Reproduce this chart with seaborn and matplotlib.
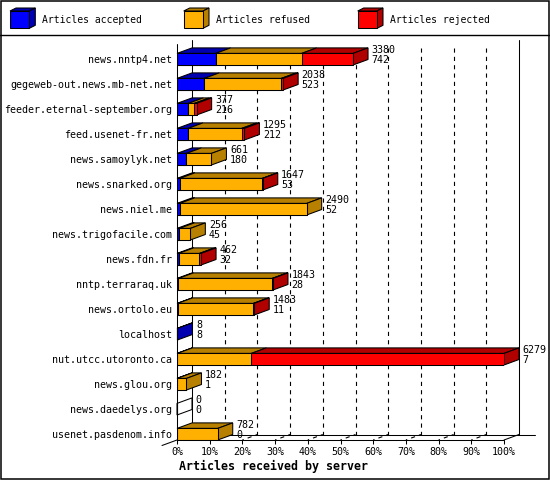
import matplotlib
matplotlib.use("Agg")
import matplotlib.pyplot as plt
import seaborn as sns
import pandas as pd
from matplotlib.patches import Polygon, Rectangle

hosts = ["news.nntp4.net", "gegeweb-out.news.mb-net.net", "feeder.eternal-september.org",
         "feed.usenet-fr.net", "news.samoylyk.net", "news.snarked.org", "news.niel.me",
         "news.trigofacile.com", "news.fdn.fr", "nntp.terraraq.uk", "news.ortolo.eu",
         "localhost", "nut.utcc.utoronto.ca", "news.glou.org", "news.daedelys.org",
         "usenet.pasdenom.info"]
total = [3380, 2038, 377, 1295, 661, 1647, 2490, 256, 462, 1843, 1483, 8, 6279, 182, 0, 782]
accepted = [742, 523, 216, 212, 180, 53, 52, 45, 32, 28, 11, 8, 7, 1, 0, 0]
refused = [1652, 1480, 116, 1030, 481, 1584, 2438, 211, 400, 1800, 1455, 0, 1420, 181, 0, 782]
rejected = [986, 35, 45, 53, 0, 10, 0, 0, 30, 15, 17, 0, 4852, 0, 0, 0]
series_labels = ["Articles accepted", "Articles refused", "Articles rejected"]
tick_values = [0, 10, 20, 30, 40, 50, 60, 70, 80, 90, 100]
x_title = "Articles received by server"

FRONT = ["#0000FF", "#FFB000", "#FF0000"]
DARK = ["#0000B0", "#B88000", "#B00000"]

sns.set_theme(style="white")
plt.rcParams["font.family"] = ["DejaVu Sans Mono"]
plt.rcParams["lines.scale_dashes"] = False

W, HH = 550, 480
fig = plt.figure(figsize=(5.5, 4.8), dpi=100)
fig.patch.set_facecolor("white")
bg = fig.add_axes([0, 0, 1, 1], zorder=0)
bg.set_xlim(0, W)
bg.set_ylim(HH, 0)
bg.axis("off")

L, R, T, B = 177, 504, 40, 440
ax = fig.add_axes([L / W, 1 - B / HH, (R - L) / W, (B - T) / HH], zorder=1)
ax.patch.set_alpha(0)

vmax = max(total)
acc = [v / vmax * 100 for v in accepted]
ref = [v / vmax * 100 for v in refused]
rej = [v / vmax * 100 for v in rejected]
c1 = acc
c2 = [a + b for a, b in zip(acc, ref)]
c3 = [a + b + c for a, b, c in zip(acc, ref, rej)]
df = pd.DataFrame({"host": hosts, "c1": c1, "c2": c2, "c3": c3})

ROW_PX = 25.0
BAR_H = 11.6 / ROW_PX
n = len(hosts)
for col, color in (("c3", FRONT[2]), ("c2", FRONT[1]), ("c1", FRONT[0])):
    sns.barplot(data=df, x=col, y="host", orient="h", color=color, saturation=1,
                width=BAR_H, edgecolor="black", linewidth=0.75, errorbar=None,
                ax=ax, zorder=3)

top = -(59.2 - T) / ROW_PX
bottom = top + n
ax.set_ylim(bottom, top)
ax.set_xlim(0, 100)
px_x = 100.0 / (R - L)
dx = 15 * px_x
dy = 5.5 / ROW_PX

# 3D faces
for i in range(n):
    yt = i - BAR_H / 2
    yb = i + BAR_H / 2
    segs = [(0, c1[i], 0), (c1[i], c2[i], 1), (c2[i], c3[i], 2)]
    last = None
    for x0, x1, k in segs:
        if x1 - x0 > 0:
            last = k
            ax.add_patch(Polygon([(x0, yt), (x1, yt), (x1 + dx, yt - dy), (x0 + dx, yt - dy)],
                                 closed=True, facecolor=DARK[k], edgecolor="black",
                                 linewidth=0.75, zorder=2.5, clip_on=False))
    te = c3[i]
    if last is None:
        ax.add_patch(Polygon([(0, yt), (dx, yt - dy), (dx, yb - dy), (0, yb)], closed=True,
                             facecolor="none", edgecolor="black", linewidth=0.75,
                             zorder=2.5, clip_on=False))
    else:
        ax.add_patch(Polygon([(te, yt), (te + dx, yt - dy), (te + dx, yb - dy), (te, yb)],
                             closed=True, facecolor=DARK[last], edgecolor="black",
                             linewidth=0.75, zorder=2.5, clip_on=False))
    tx = te + dx + 3.5 * px_x
    ax.text(tx, i - 8.8 / ROW_PX, str(total[i]), ha="left", va="center", fontsize=7.2,
            color="black", clip_on=False, zorder=5)
    ax.text(tx, i + 1.2 / ROW_PX, str(accepted[i]), ha="left", va="center", fontsize=7.2,
            color="black", clip_on=False, zorder=5)

# walls and floor
kw = dict(color="black", linewidth=0.75, clip_on=False)
floor_f = bottom
floor_b = bottom - dy
ax.plot([dx, dx], [top, floor_b], zorder=1, **kw)
ax.plot([100 + dx, 100 + dx], [top, floor_b], zorder=1, **kw)
ax.plot([0, 0], [top + 4 / ROW_PX, floor_f], zorder=4, **kw)
ax.plot([0, 100], [floor_f, floor_f], zorder=4, **kw)
ax.plot([100, 100 + dx], [floor_f, floor_b], zorder=4, **kw)
ax.plot([dx, (535 - L) * px_x], [floor_b, floor_b], zorder=1, **kw)
ax.plot([dx, -dx], [floor_b, floor_f + dy], zorder=1, **kw)
for t in tick_values[1:-1]:
    ax.plot([t + dx, t + dx], [top + 8 / ROW_PX, floor_b], color="black", linewidth=0.8,
            linestyle=(0, (3.0, 3.0)), zorder=1, clip_on=False)
    ax.plot([t, t + dx], [floor_f, floor_b], color="black", linewidth=0.8,
            linestyle=(2.0, (3.0, 3.0)), zorder=1, clip_on=False)

for s in ax.spines.values():
    s.set_visible(False)
ax.set_xlabel("")
ax.set_ylabel("")
ax.set_xticks(tick_values)
ax.set_xticklabels([f"{t}%" for t in tick_values])
ax.tick_params(axis="x", bottom=True, length=3.2, width=0.75, pad=1.8, labelsize=7.2,
               colors="black", direction="out")
ax.tick_params(axis="y", left=False, length=0, pad=3.3, labelsize=7.2, colors="black")
ax.grid(False)

fig.text(179 / W, 1 - 466.7 / HH, x_title, fontweight="bold", fontsize=8.4,
         ha="left", va="center", color="black")

# legend
for x0, k, lab in ((10, 0, series_labels[0]), (183.7, 1, series_labels[1]),
                   (357.7, 2, series_labels[2])):
    w, h, ox, oy, y0 = 19.3, 17.3, 6, 3, 11
    bg.add_patch(Polygon([(x0, y0), (x0 + w, y0), (x0 + w + ox, y0 - oy), (x0 + ox, y0 - oy)],
                         closed=True, facecolor=DARK[k], edgecolor="black", linewidth=0.75))
    bg.add_patch(Polygon([(x0 + w, y0), (x0 + w + ox, y0 - oy), (x0 + w + ox, y0 + h - oy),
                          (x0 + w, y0 + h)], closed=True, facecolor=DARK[k],
                         edgecolor="black", linewidth=0.75))
    bg.add_patch(Rectangle((x0, y0), w, h, facecolor=FRONT[k], edgecolor="black",
                           linewidth=0.75))
    bg.text(x0 + 32.5, 20, lab, ha="left", va="center", fontsize=7.0, color="black")

bg.add_patch(Rectangle((0.6, 0.6), W - 1.2, HH - 1.2, fill=False, edgecolor="black",
                       linewidth=1.1))
bg.plot([0, W], [35, 35], color="black", linewidth=1.0)

fig.savefig("out.png", dpi=100)
